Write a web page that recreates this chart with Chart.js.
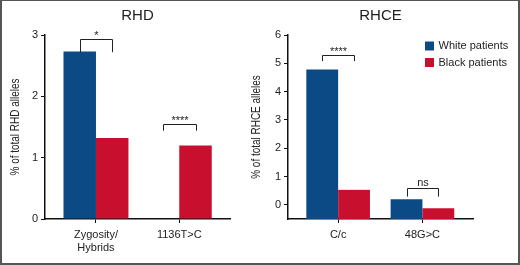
<!DOCTYPE html>
<html>
<head>
<meta charset="utf-8">
<script src="https://cdn.jsdelivr.net/npm/chart.js@4"></script>
<style>
    body { margin: 0; background: #fff; }
    #wrap { position: relative; width: 520px; height: 265px; overflow: hidden; }
    #rhd { position: absolute; left: 0; top: 0; }
    #rhce { position: absolute; left: 240px; top: 0; }
    #frame { position: absolute; left: 0; top: 0; width: 520px; height: 265px; box-sizing: border-box;
             border: 2px solid #555; border-top-width: 1px; pointer-events: none; }
</style>
</head>
<body>
<div id="wrap">
    <canvas id="rhd" width="240" height="265"></canvas>
    <canvas id="rhce" width="280" height="265"></canvas>
    <div id="frame"></div>
</div>
<script>
// RHD panel
const rhdCategories = [["Zygosity/", "Hybrids"], ["1136T>C"]];
const rhdWhite = [2.73, 0];
const rhdBlack = [1.32, 1.2];
const rhdTicks = [0, 1, 2, 3];
const rhdSig = [
    { index: 0, top: 2.93, end: 2.72, label: "*" },
    { index: 1, top: 1.55, end: 1.44, label: "****" },
];

// RHCE panel
const rhceCategories = [["C/c"], ["48G>C"]];
const rhceWhite = [4.78, 0.2];
const rhceBlack = [0.53, -0.12];
const rhceTicks = [0, 1, 2, 3, 4, 5, 6];
const rhceSig = [
    { index: 0, top: 5.29, end: 5.08, label: "****" },
    { index: 1, top: 0.59, end: 0.29, label: "ns" },
];

const seriesNames = ["White patients", "Black patients"];
const seriesColors = ["#0c4a86", "#c8102e"];

const FONT = '"Liberation Sans", Arial, Helvetica, sans-serif';
const INK = "#222";

function points(values) {
    return values.map((v, i) => ({ x: i + 1, y: v }));
}

function bracketPlugin(items) {
    return {
        id: "brackets",
        afterDatasetsDraw(chart) {
            const ctx = chart.ctx;
            const y = chart.scales.y;
            ctx.save();
            ctx.strokeStyle = INK;
            ctx.fillStyle = INK;
            ctx.lineWidth = 1;
            ctx.font = `11px ${FONT}`;
            ctx.textAlign = "center";
            ctx.textBaseline = "alphabetic";
            items.forEach((it) => {
                const x0 = Math.round(chart.getDatasetMeta(0).data[it.index].x) + 0.5;
                const x1 = Math.round(chart.getDatasetMeta(1).data[it.index].x) + 0.5;
                const yt = Math.round(y.getPixelForValue(it.top)) + 0.5;
                const ye = y.getPixelForValue(it.end);
                ctx.beginPath();
                ctx.moveTo(x0, ye);
                ctx.lineTo(x0, yt);
                ctx.lineTo(x1, yt);
                ctx.lineTo(x1, ye);
                ctx.stroke();
                ctx.fillText(it.label, (x0 + x1) / 2, yt - (it.label === "ns" ? 3 : 1));
            });
            ctx.restore();
        },
    };
}

// the source uses a condensed face for the y title; no narrow font here, so squeeze it
const narrowTitlePlugin = {
    id: "narrowTitle",
    afterDraw(chart) {
        const s = chart.scales.y;
        const ctx = chart.ctx;
        ctx.save();
        ctx.translate(s.left + 7, (s.top + s.bottom) / 2);
        ctx.rotate(-Math.PI / 2);
        ctx.scale(0.83, 1);
        ctx.font = `12px ${FONT}`;
        ctx.fillStyle = INK;
        ctx.textAlign = "center";
        ctx.textBaseline = "middle";
        ctx.fillText(s.options.title.text, 0, 0);
        ctx.restore();
    },
};

// legend sits inside the RHCE plot, top right
const legendPlugin = {
    id: "innerLegend",
    afterDraw(chart) {
        const ctx = chart.ctx;
        ctx.save();
        ctx.font = `11px ${FONT}`;
        ctx.textBaseline = "middle";
        ctx.textAlign = "left";
        chart.data.datasets.forEach((ds, i) => {
            const cy = 46 + i * 16.5;
            ctx.fillStyle = ds.backgroundColor;
            ctx.fillRect(185, cy - 4.5, 9, 9);
            ctx.fillStyle = INK;
            ctx.fillText(ds.label, 198.5, cy);
        });
        ctx.restore();
    },
};

function makePanel(canvasId, cfg) {
    return new Chart(document.getElementById(canvasId), {
        type: "bar",
        data: {
            datasets: [
                { label: seriesNames[0], data: points(cfg.white), backgroundColor: seriesColors[0], base: cfg.yMin },
                { label: seriesNames[1], data: points(cfg.black), backgroundColor: seriesColors[1], base: cfg.yMin },
            ],
        },
        options: {
            responsive: false,
            animation: false,
            layout: { padding: { left: cfg.padLeft, right: cfg.padRight, top: 0, bottom: 0 } },
            datasets: { bar: { categoryPercentage: cfg.catPct, barPercentage: 1 } },
            plugins: {
                legend: { display: false },
                tooltip: { enabled: false },
                title: {
                    display: true,
                    text: cfg.title,
                    fullSize: false,
                    color: INK,
                    font: { family: FONT, size: 15, weight: "normal", lineHeight: 1.2 },
                    padding: { top: 7, bottom: 10 },
                },
            },
            scales: {
                x: {
                    type: "linear",
                    min: cfg.xMin,
                    max: cfg.xMax,
                    offset: false,
                    grid: { offset: false, drawOnChartArea: false, tickLength: 4, color: "#111", lineWidth: 1 },
                    border: { color: "#111", width: 1.5 },
                    afterBuildTicks: (s) => { s.ticks = cfg.categories.map((c, i) => ({ value: i + 1 })); },
                    afterFit: (s) => { s.height = 46; },
                    ticks: {
                        color: INK,
                        font: { family: FONT, size: 11, lineHeight: 1.2 },
                        padding: 5,
                        maxRotation: 0,
                        autoSkip: false,
                        callback: (v) => cfg.categories[v - 1],
                    },
                },
                y: {
                    min: cfg.yMin,
                    max: cfg.yMax,
                    grid: { drawOnChartArea: false, tickLength: 4, color: "#111", lineWidth: 1 },
                    border: { color: "#111", width: 1.5 },
                    afterBuildTicks: (s) => { s.ticks = cfg.yTicks.map((v) => ({ value: v })); },
                    afterFit: (s) => { s.width = cfg.yWidth; },
                    ticks: { color: INK, font: { family: FONT, size: 11 }, padding: 3 },
                    title: { display: false, text: cfg.yTitle },
                },
            },
        },
        plugins: cfg.plugins,
    });
}

makePanel("rhd", {
    title: "RHD",
    yTitle: "% of total RHD alleles",
    categories: rhdCategories,
    white: rhdWhite,
    black: rhdBlack,
    yTicks: rhdTicks,
    yMin: 0, yMax: 3,
    xMin: 0.388, xMax: 2.609,
    catPct: 0.78,
    padLeft: 9, padRight: 10, yWidth: 36,
    plugins: [bracketPlugin(rhdSig), narrowTitlePlugin],
});

makePanel("rhce", {
    title: "RHCE",
    yTitle: "% of total RHCE alleles",
    categories: rhceCategories,
    white: rhceWhite,
    black: rhceBlack,
    yTicks: rhceTicks,
    yMin: -0.5, yMax: 6,
    xMin: 0.405, xMax: 2.6,
    catPct: 0.755,
    padLeft: 10, padRight: 47, yWidth: 38,
    plugins: [bracketPlugin(rhceSig), legendPlugin, narrowTitlePlugin],
});
</script>
</body>
</html>
